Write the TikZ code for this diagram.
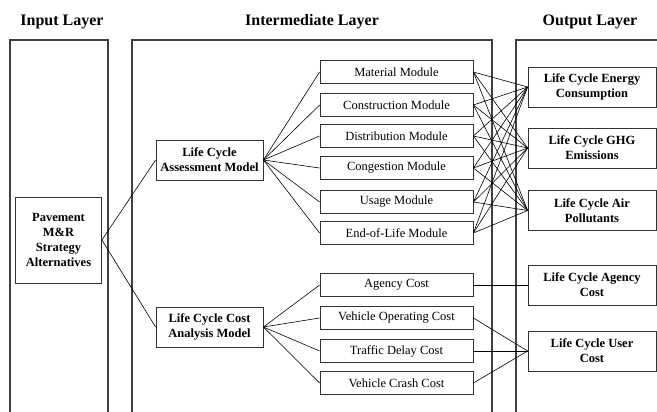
\documentclass[tikz,border=0pt]{standalone}
\usepackage{fontspec}
\setmainfont{Liberation Serif}
\begin{document}
\begin{tikzpicture}[x=1pt,y=-1pt,
  frame/.style={draw=black!75,line width=1.3pt},
  box/.style={draw=black!80,line width=0.8pt,fill=white,inner sep=0pt,align=center,font=\fontsize{12.5}{15}\selectfont},
  bbox/.style={box,font=\fontsize{12.5}{15}\bfseries\selectfont},
  title/.style={font=\fontsize{16}{18}\bfseries\selectfont},
  link/.style={draw=black,line width=0.6pt}]
\useasboundingbox (0,0) rectangle (657,412);
\begin{scope}
\clip (0,0) rectangle (657,412);
% titles
\node[title] (tin) at (62,22) {Input Layer};
\node[title] (tmid) at (312,22) {Intermediate Layer};
\node[title] (tout) at (590,22) {Output Layer};
% layer frames (open at bottom)
\draw[frame] (10,415) -- (10,40) -- (108,40) -- (108,415);
\draw[frame] (132,415) -- (132,40) -- (492,40) -- (492,415);
\draw[frame] (516,415) -- (516,40) -- (662,40);
% links (drawn before nodes)
\path (0,0);
\end{scope}
% nodes
\node[bbox,minimum width=86pt,minimum height=86pt] (pav) at (58.5,240) {Pavement\\M\&R\\Strategy\\Alternatives};
\node[bbox,minimum width=107pt,minimum height=40pt] (lca) at (209.5,160) {Life Cycle\\Assessment Model};
\node[bbox,minimum width=107pt,minimum height=40pt] (lcc) at (209.5,327) {Life Cycle Cost\\Analysis Model};
\foreach \n/\y/\t in {m1/72/Material Module, m2/105/Construction Module, m3/136/Distribution Module, m4/168/Congestion Module, m5/202/Usage Module, m6/233/End-of-Life Module, c1/285/Agency Cost, c2/318/Vehicle Operating Cost, c3/351/Traffic Delay Cost, c4/383/Vehicle Crash Cost}
  \node[box,minimum width=153pt,minimum height=23.5pt] (\n) at (396.5,\y) {\t};
\node[bbox,minimum width=128pt,minimum height=40pt] (o1) at (592,87) {Life Cycle Energy\\Consumption};
\node[bbox,minimum width=128pt,minimum height=40pt] (o2) at (592,148) {Life Cycle GHG\\Emissions};
\node[bbox,minimum width=128pt,minimum height=40pt] (o3) at (592,210.5) {Life Cycle Air\\Pollutants};
\node[bbox,minimum width=128pt,minimum height=40pt] (o4) at (592,285) {Life Cycle Agency\\Cost};
\node[bbox,minimum width=128pt,minimum height=40pt] (o5) at (592,351) {Life Cycle User\\Cost};
% connectors
\draw[link] (pav.east) -- (lca.west);
\draw[link] (pav.east) -- (lcc.west);
\foreach \m in {m1,m2,m3,m4,m5,m6} {
  \draw[link] (lca.east) -- (\m.west);
  \foreach \o in {o1,o2,o3} \draw[link] (\m.east) -- (\o.west);
}
\foreach \c in {c1,c2,c3,c4} \draw[link] (lcc.east) -- (\c.west);
\draw[link] (c1.east) -- (o4.west);
\foreach \c in {c2,c3,c4} \draw[link] (\c.east) -- (o5.west);
\end{tikzpicture}
\end{document}
